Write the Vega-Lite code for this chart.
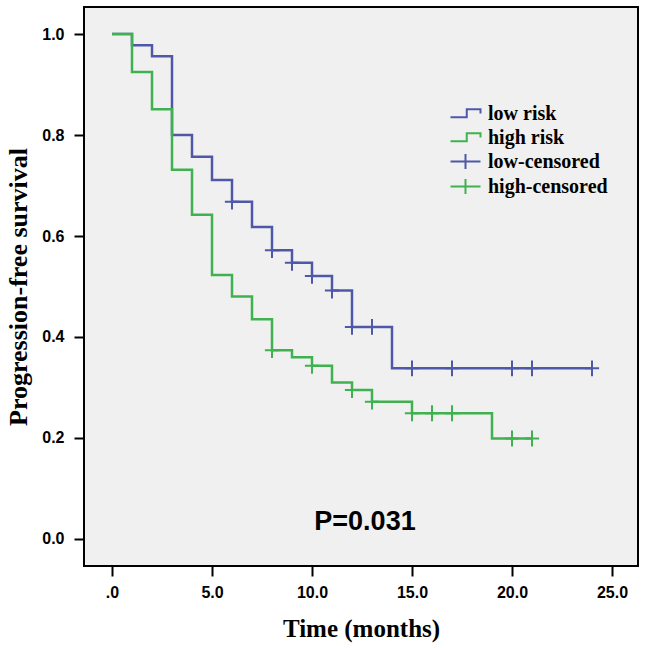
{
  "$schema": "https://vega.github.io/schema/vega-lite/v6.json",
  "description": "Kaplan-Meier progression-free survival by risk group",
  "autosize": "none",
  "width": 554,
  "height": 559,
  "padding": {"left": 84, "top": 7, "right": 7, "bottom": 82},
  "background": "white",
  "config": {
    "view": {"fill": "#f0f0f0", "stroke": "black", "strokeWidth": 2},
    "axis": {
      "domain": false,
      "grid": false,
      "tickColor": "black",
      "tickSize": 10,
      "tickWidth": 2,
      "labelFont": "Liberation Sans",
      "labelFontWeight": "bold",
      "labelFontSize": 16,
      "labelColor": "black",
      "titleFont": "Liberation Serif",
      "titleFontWeight": "bold",
      "titleColor": "black"
    }
  },
  "datasets": {
    "low": [
      {"time": 0, "surv": 1.0},
      {"time": 1, "surv": 0.978},
      {"time": 2, "surv": 0.956},
      {"time": 3, "surv": 0.8},
      {"time": 4, "surv": 0.757},
      {"time": 5, "surv": 0.711},
      {"time": 6, "surv": 0.668},
      {"time": 7, "surv": 0.618},
      {"time": 8, "surv": 0.572},
      {"time": 9, "surv": 0.547},
      {"time": 10, "surv": 0.521},
      {"time": 11, "surv": 0.492},
      {"time": 12, "surv": 0.42},
      {"time": 14, "surv": 0.338},
      {"time": 24, "surv": 0.338}
    ],
    "high": [
      {"time": 0, "surv": 1.0},
      {"time": 1, "surv": 0.925},
      {"time": 2, "surv": 0.851},
      {"time": 3, "surv": 0.731},
      {"time": 4, "surv": 0.642},
      {"time": 5, "surv": 0.523},
      {"time": 6, "surv": 0.48},
      {"time": 7, "surv": 0.435},
      {"time": 8, "surv": 0.374},
      {"time": 9, "surv": 0.36},
      {"time": 10, "surv": 0.343},
      {"time": 11, "surv": 0.31},
      {"time": 12, "surv": 0.295},
      {"time": 13, "surv": 0.272},
      {"time": 15, "surv": 0.249},
      {"time": 19, "surv": 0.199},
      {"time": 21, "surv": 0.199}
    ],
    "censor": [
      {"series": "low-censored", "time": 6, "surv": 0.668},
      {"series": "low-censored", "time": 8, "surv": 0.572},
      {"series": "low-censored", "time": 9, "surv": 0.547},
      {"series": "low-censored", "time": 10, "surv": 0.521},
      {"series": "low-censored", "time": 11, "surv": 0.492},
      {"series": "low-censored", "time": 12, "surv": 0.42},
      {"series": "low-censored", "time": 13, "surv": 0.42},
      {"series": "low-censored", "time": 15, "surv": 0.338},
      {"series": "low-censored", "time": 17, "surv": 0.338},
      {"series": "low-censored", "time": 20, "surv": 0.338},
      {"series": "low-censored", "time": 21, "surv": 0.338},
      {"series": "low-censored", "time": 24, "surv": 0.338},
      {"series": "high-censored", "time": 8, "surv": 0.374},
      {"series": "high-censored", "time": 10, "surv": 0.343},
      {"series": "high-censored", "time": 12, "surv": 0.295},
      {"series": "high-censored", "time": 13, "surv": 0.272},
      {"series": "high-censored", "time": 15, "surv": 0.249},
      {"series": "high-censored", "time": 16, "surv": 0.249},
      {"series": "high-censored", "time": 17, "surv": 0.249},
      {"series": "high-censored", "time": 20, "surv": 0.199},
      {"series": "high-censored", "time": 21, "surv": 0.199}
    ],
    "note": [
      {"time": 12.65, "surv": 0.034, "label": "P=0.031"}
    ]
  },
  "encoding": {
    "x": {
      "field": "time",
      "type": "quantitative",
      "scale": {"domain": [-1.4, 26.3], "nice": false, "zero": false},
      "axis": {
        "title": "Time (months)",
        "titleFontSize": 25,
        "titlePadding": 16,
        "values": [0, 5, 10, 15, 20, 25],
        "labelExpr": "datum.value == 0 ? '.0' : format(datum.value, '.1f')",
        "labelPadding": 8
      }
    },
    "y": {
      "field": "surv",
      "type": "quantitative",
      "scale": {"domain": [-0.0535, 1.0535], "nice": false, "zero": false},
      "axis": {
        "title": "Progression-free survival",
        "titleFontSize": 26,
        "titlePadding": 10,
        "values": [0, 0.2, 0.4, 0.6, 0.8, 1.0],
        "format": ".1f",
        "labelPadding": 10
      }
    }
  },
  "layer": [
    {
      "data": {"name": "low"},
      "mark": {"type": "line", "interpolate": "step-after", "color": "#4f58a8", "strokeWidth": 2.5}
    },
    {
      "data": {"name": "high"},
      "mark": {"type": "line", "interpolate": "step-after", "color": "#3fb24f", "strokeWidth": 2.5}
    },
    {
      "data": {"name": "censor"},
      "transform": [{"filter": "datum.series == 'low-censored'"}],
      "mark": {"type": "point", "filled": false, "size": 250, "strokeWidth": 2, "opacity": 1, "color": "#4f58a8", "shape": "M-0.9,0H0.9M0,-1V1"}
    },
    {
      "data": {"name": "censor"},
      "transform": [{"filter": "datum.series == 'high-censored'"}],
      "mark": {"type": "point", "filled": false, "size": 250, "strokeWidth": 2, "opacity": 1, "color": "#3fb24f", "shape": "M-0.9,0H0.9M0,-1V1"}
    },
    {
      "data": {"name": "censor"},
      "transform": [{"filter": "datum.time < 0"}],
      "mark": {"type": "point", "filled": false, "size": 250, "strokeWidth": 2, "opacity": 1},
      "encoding": {
        "color": {
          "field": "series",
          "type": "nominal",
          "scale": {
            "domain": ["low risk", "high risk", "low-censored", "high-censored"],
            "range": ["#4f58a8", "#3fb24f", "#4f58a8", "#3fb24f"]
          },
          "legend": {
            "title": null,
            "orient": "none",
            "legendX": 368,
            "legendY": 93,
            "padding": 0,
            "rowPadding": 0,
            "symbolSize": 625,
            "symbolStrokeWidth": 2,
            "labelFont": "Liberation Serif",
            "labelFontWeight": "bold",
            "labelFontSize": 20,
            "labelColor": "black",
            "labelOffset": 9
          }
        },
        "shape": {
          "field": "series",
          "type": "nominal",
          "scale": {
            "domain": ["low risk", "high risk", "low-censored", "high-censored"],
            "range": [
              "M-1.2,0.3H0.1V-0.35H1.2V0",
              "M-1.2,0.3H0.1V-0.35H1.2V0",
              "M-1.2,0H1.2M0,-0.6V0.6",
              "M-1.2,0H1.2M0,-0.6V0.6"
            ]
          }
        }
      }
    },
    {
      "data": {"name": "note"},
      "mark": {"type": "text", "font": "Liberation Sans", "fontWeight": "bold", "fontSize": 27, "color": "black", "align": "center", "baseline": "middle"},
      "encoding": {"text": {"field": "label"}}
    }
  ]
}
